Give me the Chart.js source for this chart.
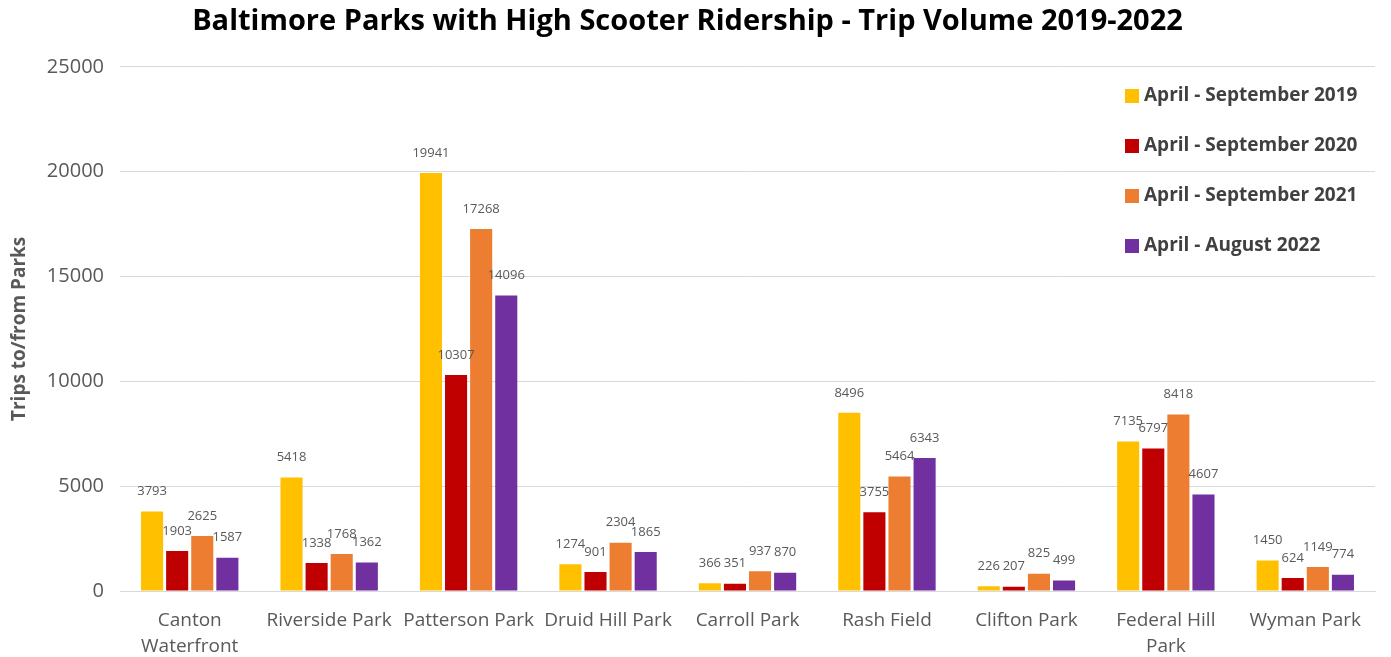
<!DOCTYPE html>
<html>
<head>
<meta charset="utf-8">
<title>Baltimore Parks Scooter Trips</title>
<script src="https://cdn.jsdelivr.net/npm/chart.js@4.4.1/dist/chart.umd.min.js"></script>
<style>
  html, body { margin: 0; padding: 0; background: #fff; }
  #wrap { width: 1391px; height: 657px; position: relative; }
</style>
</head>
<body>
<div id="wrap"><canvas id="chart"></canvas></div>
<script>
// Data
const parks = [
    ['Canton', 'Waterfront'], 'Riverside Park', 'Patterson Park', 'Druid Hill Park',
    'Carroll Park', 'Rash Field', 'Clifton Park', ['Federal Hill', 'Park'], 'Wyman Park'
];
const seriesNames = [
    'April - September 2019',
    'April - September 2020',
    'April - September 2021',
    'April - August 2022'
];
const trips2019 = [3793, 5418, 19941, 1274, 366, 8496, 226, 7135, 1450];
const trips2020 = [1903, 1338, 10307, 901, 351, 3755, 207, 6797, 624];
const trips2021 = [2625, 1768, 17268, 2304, 937, 5464, 825, 8418, 1149];
const trips2022 = [1587, 1362, 14096, 1865, 870, 6343, 499, 4607, 774];
const yTicks = [0, 5000, 10000, 15000, 20000, 25000];

const colors = ['#FFC000', '#C00000', '#ED7D31', '#7030A0'];
const textGray = '#595959';
const fontFamily = '"Open Sans", Lato, "DejaVu Sans", sans-serif';

// value labels above each bar
const barValues = {
    id: 'barValues',
    afterDatasetsDraw(chart) {
        const ctx = chart.ctx;
        ctx.save();
        ctx.font = '13px ' + fontFamily;
        ctx.fillStyle = textGray;
        ctx.textAlign = 'center';
        ctx.textBaseline = 'middle';
        chart.data.datasets.forEach((ds, i) => {
            const meta = chart.getDatasetMeta(i);
            meta.data.forEach((bar, j) => {
                ctx.fillText(ds.data[j], bar.x, bar.y - 20);
            });
        });
        ctx.restore();
    }
};

// legend drawn inside the plot area on the right
const sideLegend = {
    id: 'sideLegend',
    afterDraw(chart) {
        const ctx = chart.ctx;
        ctx.save();
        ctx.font = 'bold 19px ' + fontFamily;
        ctx.textBaseline = 'middle';
        ctx.textAlign = 'left';
        chart.data.datasets.forEach((ds, i) => {
            const y = 96 + i * 50;
            ctx.fillStyle = ds.backgroundColor;
            ctx.fillRect(1125, y - 7, 14, 14);
            ctx.fillStyle = '#404040';
            ctx.fillText(ds.label, 1144, y);
        });
        ctx.restore();
    }
};

const datasets = [trips2019, trips2020, trips2021, trips2022].map((vals, i) => ({
    label: seriesNames[i],
    data: vals,
    backgroundColor: colors[i],
    borderWidth: 0,
    barPercentage: 0.88,
    categoryPercentage: 0.72
}));

new Chart(document.getElementById('chart'), {
    type: 'bar',
    data: { labels: parks, datasets: datasets },
    options: {
        responsive: true,
        maintainAspectRatio: false,
        animation: false,
        layout: { padding: { left: 0, right: 16, top: 0, bottom: 0 } },
        plugins: {
            legend: { display: false },
            tooltip: { enabled: false },
            title: {
                display: true,
                text: 'Baltimore Parks with High Scooter Ridership - Trip Volume 2019-2022',
                color: '#000',
                font: { family: fontFamily, size: 29, weight: 'bold', lineHeight: 1.2 },
                padding: { top: 4, bottom: 28 }
            }
        },
        scales: {
            x: {
                grid: { display: false },
                border: { color: '#d9d9d9' },
                ticks: {
                    color: textGray,
                    font: { family: fontFamily, size: 19, lineHeight: 1.4 },
                    maxRotation: 0,
                    autoSkip: false,
                    padding: 8
                },
                afterFit(scale) { scale.height = 66; }
            },
            y: {
                min: 0,
                max: 25000,
                afterBuildTicks(scale) { scale.ticks = yTicks.map(v => ({ value: v })); },
                grid: { color: '#d9d9d9', drawTicks: false },
                border: { display: false },
                ticks: {
                    color: textGray,
                    font: { family: fontFamily, size: 20 },
                    padding: 16,
                    callback: (v) => String(v)
                },
                title: {
                    display: true,
                    text: 'Trips to/from Parks',
                    color: textGray,
                    font: { family: fontFamily, size: 19, weight: 'bold' },
                    padding: { top: 8, bottom: 0 }
                },
                afterFit(scale) { scale.width = 120; }
            }
        }
    },
    plugins: [barValues, sideLegend]
});
</script>
</body>
</html>
